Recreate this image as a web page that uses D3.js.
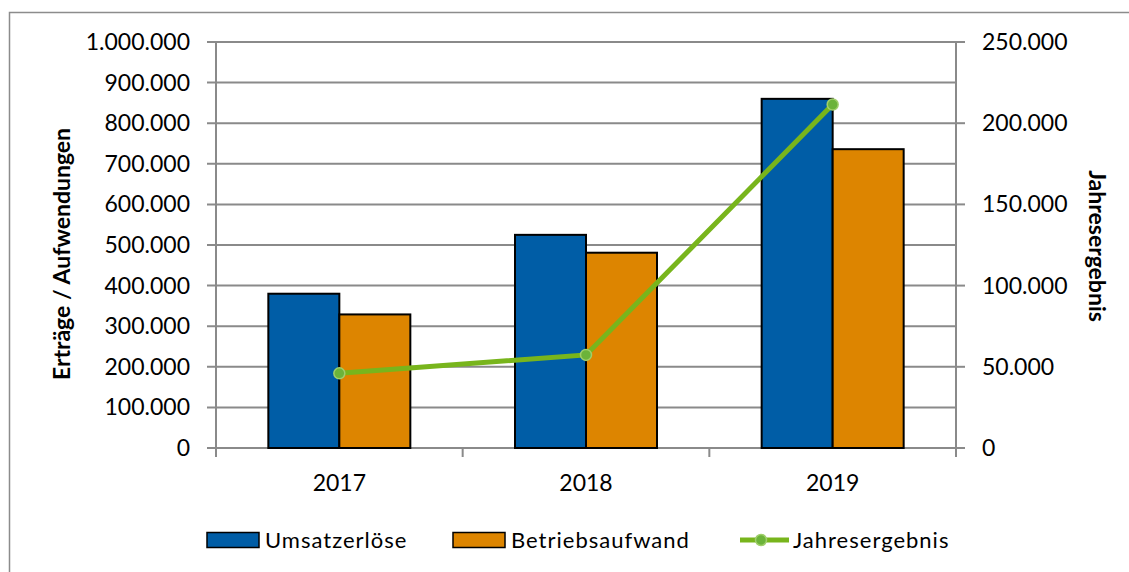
<!DOCTYPE html>
<html>
<head>
<meta charset="utf-8">
<script src="https://cdn.jsdelivr.net/npm/d3@7"></script>
<style>
  body { margin: 0; background: #fff; }
  text { font-family: Lato, "Open Sans", sans-serif; fill: #000; }
</style>
</head>
<body>
<div id="chart"></div>
<script>
const width = 1129;
const height = 572;

const years = ["2017", "2018", "2019"];
const umsatz = [380000, 525000, 860000];
const aufwand = [329000, 481000, 736000];
const ergebnis = [46000, 57300, 211500];
const leftTicks = [0, 100000, 200000, 300000, 400000, 500000, 600000, 700000, 800000, 900000, 1000000];
const rightTicks = [0, 50000, 100000, 150000, 200000, 250000];

const blue = "#005da6";
const orange = "#dd8500";
const green = "#78b51c";

const plot = { left: 216, right: 956, top: 42, bottom: 448 };

const fmt = v => v === 0 ? "0" : d3.format(",")(v).replace(/,/g, ".");

const svg = d3.select("#chart")
  .append("svg")
  .attr("width", width)
  .attr("height", height);

// outer frame (right and bottom edges fall off the picture)
svg.append("rect")
  .attr("x", 9.5).attr("y", 12.5)
  .attr("width", 1130).attr("height", 570)
  .attr("fill", "none")
  .attr("stroke", "#8c8c8c")
  .attr("stroke-width", 1.5);

let x = d3.scaleBand()
  .domain(years)
  .range([plot.left, plot.right])
  .paddingInner(0)
  .paddingOuter(0);

let y = d3.scaleLinear().domain([0, 1000000]).range([plot.bottom, plot.top]);
let y2 = d3.scaleLinear().domain([0, 250000]).range([plot.bottom, plot.top]);

const barW = 71;

// gridlines
svg.append("g")
  .selectAll("line")
  .data(leftTicks)
  .enter()
  .append("line")
  .attr("x1", plot.left - 9).attr("x2", plot.right)
  .attr("y1", d => y(d)).attr("y2", d => y(d))
  .attr("stroke", "#8a8a8a")
  .attr("stroke-width", 2);

// right axis ticks
svg.append("g")
  .selectAll("line")
  .data(rightTicks)
  .enter()
  .append("line")
  .attr("x1", plot.right).attr("x2", plot.right + 9)
  .attr("y1", d => y2(d)).attr("y2", d => y2(d))
  .attr("stroke", "#8a8a8a")
  .attr("stroke-width", 2);

// axis lines
svg.append("line")
  .attr("x1", plot.left).attr("x2", plot.left)
  .attr("y1", plot.top).attr("y2", plot.bottom + 9)
  .attr("stroke", "#8a8a8a").attr("stroke-width", 2);
svg.append("line")
  .attr("x1", plot.right).attr("x2", plot.right)
  .attr("y1", plot.top).attr("y2", plot.bottom + 9)
  .attr("stroke", "#8a8a8a").attr("stroke-width", 2);
svg.append("line")
  .attr("x1", plot.left).attr("x2", plot.right)
  .attr("y1", plot.bottom).attr("y2", plot.bottom)
  .attr("stroke", "#8a8a8a").attr("stroke-width", 2);
svg.append("g")
  .selectAll("line")
  .data(years.slice(1))
  .enter()
  .append("line")
  .attr("x1", d => x(d)).attr("x2", d => x(d))
  .attr("y1", plot.bottom).attr("y2", plot.bottom + 9)
  .attr("stroke", "#8a8a8a").attr("stroke-width", 2);

// bars
const mid = d => x(d) + x.bandwidth() / 2;
svg.append("g")
  .selectAll("rect")
  .data(years)
  .enter()
  .append("rect")
  .attr("x", d => mid(d) - barW)
  .attr("y", (d, i) => y(umsatz[i]))
  .attr("width", barW)
  .attr("height", (d, i) => plot.bottom - y(umsatz[i]))
  .attr("fill", blue)
  .attr("stroke", "#000")
  .attr("stroke-width", 2);
svg.append("g")
  .selectAll("rect")
  .data(years)
  .enter()
  .append("rect")
  .attr("x", d => mid(d))
  .attr("y", (d, i) => y(aufwand[i]))
  .attr("width", barW)
  .attr("height", (d, i) => plot.bottom - y(aufwand[i]))
  .attr("fill", orange)
  .attr("stroke", "#000")
  .attr("stroke-width", 2);

// line
const line = d3.line()
  .x((d, i) => mid(years[i]))
  .y(d => y2(d));
svg.append("path")
  .datum(ergebnis)
  .attr("d", line)
  .attr("fill", "none")
  .attr("stroke", green)
  .attr("stroke-width", 5);
svg.append("g")
  .selectAll("circle")
  .data(ergebnis)
  .enter()
  .append("circle")
  .attr("cx", (d, i) => mid(years[i]))
  .attr("cy", d => y2(d))
  .attr("r", 5.5)
  .attr("fill", "#6cb33a")
  .attr("stroke", "#9fce6a")
  .attr("stroke-width", 1.5);

// tick labels
svg.append("g")
  .selectAll("text")
  .data(leftTicks)
  .enter()
  .append("text")
  .attr("x", 190)
  .attr("y", d => y(d))
  .attr("dy", "0.35em")
  .attr("text-anchor", "end")
  .attr("font-size", "23px")
  .text(fmt);
svg.append("g")
  .selectAll("text")
  .data(rightTicks)
  .enter()
  .append("text")
  .attr("x", 982)
  .attr("y", d => y2(d))
  .attr("dy", "0.35em")
  .attr("text-anchor", "start")
  .attr("font-size", "23px")
  .text(fmt);
svg.append("g")
  .selectAll("text")
  .data(years)
  .enter()
  .append("text")
  .attr("x", d => mid(d))
  .attr("y", 483)
  .attr("dy", "0.35em")
  .attr("text-anchor", "middle")
  .attr("font-size", "23px")
  .text(d => d);

// axis titles
svg.append("text")
  .attr("transform", "translate(62,254) rotate(-90)")
  .attr("text-anchor", "middle")
  .attr("dy", "0.35em")
  .attr("font-size", "23px")
  .attr("font-weight", "bold")
  .text("Erträge / Aufwendungen");
svg.append("text")
  .attr("transform", "translate(1097,246) rotate(90)")
  .attr("text-anchor", "middle")
  .attr("dy", "0.35em")
  .attr("font-size", "23px")
  .attr("font-weight", "bold")
  .text("Jahresergebnis");

// legend
const legY = 540;
const legend = svg.append("g");
[["Umsatzerlöse", blue, 207], ["Betriebsaufwand", orange, 453]].forEach(function(l) {
  legend.append("rect")
    .attr("x", l[2]).attr("y", legY - 7.5)
    .attr("width", 52).attr("height", 15)
    .attr("fill", l[1])
    .attr("stroke", "#000")
    .attr("stroke-width", 1.5);
  legend.append("text")
    .attr("x", l[2] + 58).attr("y", legY)
    .attr("dy", "0.35em")
    .attr("font-size", "22px")
    .attr("letter-spacing", "1px")
    .text(l[0]);
});
legend.append("line")
  .attr("x1", 740).attr("x2", 789)
  .attr("y1", legY).attr("y2", legY)
  .attr("stroke", green).attr("stroke-width", 5);
legend.append("circle")
  .attr("cx", 761).attr("cy", legY)
  .attr("r", 5.5)
  .attr("fill", "#6cb33a")
  .attr("stroke", "#9fce6a")
  .attr("stroke-width", 1.5);
legend.append("text")
  .attr("x", 793).attr("y", legY)
  .attr("dy", "0.35em")
  .attr("font-size", "22px")
  .attr("letter-spacing", "1px")
  .text("Jahresergebnis");
</script>
</body>
</html>
